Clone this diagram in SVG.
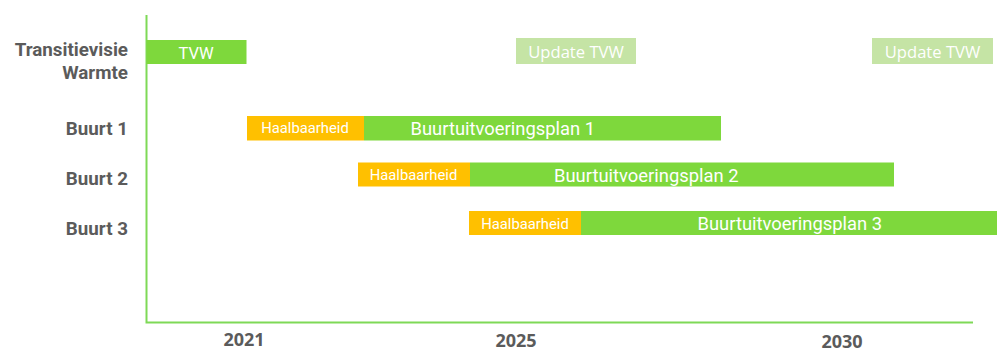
<svg xmlns="http://www.w3.org/2000/svg" width="997" height="348" viewBox="0 0 997 348">
<style>
.lbl{font-family:Roboto,"Liberation Sans",sans-serif;font-weight:bold;font-size:18.8px;fill:#5b5b5b;text-anchor:end}
.yr{font-family:"Open Sans","Liberation Sans",sans-serif;font-weight:bold;font-size:18px;fill:#5b5b5b;text-anchor:middle}
.g{fill:#7ED83C}
.o{fill:#FFC000}
.lg{fill:#C5E4A5}
.t{font-family:Roboto,"Liberation Sans",sans-serif;fill:#ffffff}
.h{font-size:14.8px;text-anchor:middle}
.b{font-size:18.4px}
.u{font-family:"Open Sans","Liberation Sans",sans-serif;font-size:16.6px;fill:#ffffff;text-anchor:middle}
</style>
<g id="labels">
<text class="lbl" x="128" y="56">Transitievisie</text>
<text class="lbl" x="128" y="78.5">Warmte</text>
<text class="lbl" x="128" y="135">Buurt 1</text>
<text class="lbl" x="128" y="185">Buurt 2</text>
<text class="lbl" x="128" y="235">Buurt 3</text>
</g>
<g id="axes">
<path d="M146.5 15 V322.5 H973" fill="none" stroke="#7ED957" stroke-width="2"/>
<text class="yr" x="244" y="345.5">2021</text>
<text class="yr" x="516" y="346.5">2025</text>
<text class="yr" x="842" y="347.5">2030</text>
</g>
<g id="tvw">
<rect class="g" x="146.5" y="40" width="100" height="24"/>
<text class="t" x="196" y="59" text-anchor="middle" font-size="16.5">TVW</text>
</g>
<g id="update1">
<rect class="lg" x="516" y="38" width="120" height="26"/>
<text class="u" x="576" y="57.5">Update TVW</text>
</g>
<g id="update2">
<rect class="lg" x="872" y="38" width="121" height="26"/>
<text class="u" x="932.5" y="57.5">Update TVW</text>
</g>
<g id="buurt1">
<rect class="o" x="247" y="116" width="117" height="24.5"/>
<rect class="g" x="364" y="116" width="357" height="24.5"/>
<text class="t h" x="305" y="133.3">Haalbaarheid</text>
<text class="t b" x="410.5" y="135">Buurtuitvoeringsplan 1</text>
</g>
<g id="buurt2">
<rect class="o" x="358" y="162.5" width="112" height="24"/>
<rect class="g" x="470" y="162.5" width="424" height="24"/>
<text class="t h" x="413.5" y="180">Haalbaarheid</text>
<text class="t b" x="554" y="181.5">Buurtuitvoeringsplan 2</text>
</g>
<g id="buurt3">
<rect class="o" x="469" y="211" width="112" height="24"/>
<rect class="g" x="581" y="211" width="416" height="24"/>
<text class="t h" x="525" y="228.5">Haalbaarheid</text>
<text class="t b" x="697.5" y="230">Buurtuitvoeringsplan 3</text>
</g>
</svg>
